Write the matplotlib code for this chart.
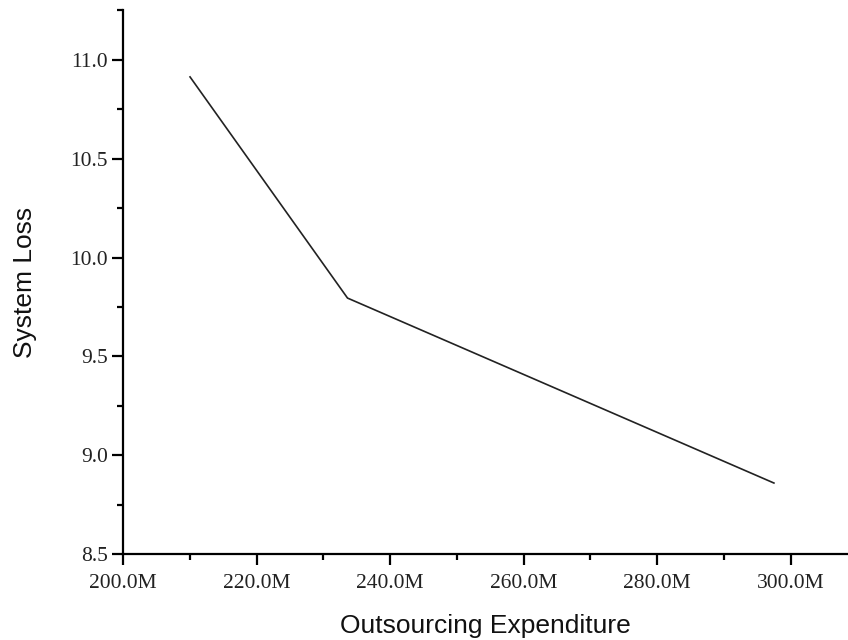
#!/usr/bin/env python3
"""System loss against outsourcing expenditure, drawn as a plain line plot."""

import matplotlib

matplotlib.use("Agg")
import matplotlib.pyplot as plt
from matplotlib.ticker import FixedFormatter, FixedLocator, MultipleLocator

# outsourcing expenditure in millions, and the resulting system loss
expenditure_m = [210.0, 233.6, 297.5]
system_loss = [10.913, 9.795, 8.860]

x_ticks = [200, 220, 240, 260, 280, 300]
x_tick_labels = ["200.0M", "220.0M", "240.0M", "260.0M", "280.0M", "300.0M"]
y_ticks = [8.5, 9.0, 9.5, 10.0, 10.5, 11.0]
y_tick_labels = ["8.5", "9.0", "9.5", "10.0", "10.5", "11.0"]

SERIF = ["Liberation Serif", "DejaVu Serif"]
SANS = ["Liberation Sans", "DejaVu Sans"]


def main() -> int:
    fig = plt.figure(figsize=(8.48, 6.4), dpi=100)
    ax = fig.add_axes([0.1454, 0.134, 0.8546, 0.850])

    ax.plot(expenditure_m, system_loss, color="#222222", linewidth=1.2)

    ax.set_xlim(200, 308.6)
    ax.set_ylim(8.5, 11.25)

    ax.xaxis.set_major_locator(FixedLocator(x_ticks))
    ax.xaxis.set_major_formatter(FixedFormatter(x_tick_labels))
    ax.xaxis.set_minor_locator(MultipleLocator(10))
    ax.yaxis.set_major_locator(FixedLocator(y_ticks))
    ax.yaxis.set_major_formatter(FixedFormatter(y_tick_labels))
    ax.yaxis.set_minor_locator(MultipleLocator(0.25))

    for side in ("top", "right"):
        ax.spines[side].set_visible(False)
    for side in ("left", "bottom"):
        ax.spines[side].set_linewidth(1.6)

    ax.tick_params(which="major", direction="out", length=8, width=1.6,
                   labelsize=15.5, pad=3)
    ax.tick_params(which="minor", direction="out", length=4.5, width=1.6)
    ax.tick_params(axis="x", which="major", pad=6.5)
    for lbl in ax.get_xticklabels() + ax.get_yticklabels():
        lbl.set_family(SERIF)
        lbl.set_color("#222222")

    ax.set_xlabel("Outsourcing Expenditure", family=SANS, fontsize=19,
                  color="#111111", labelpad=14.5)
    ax.set_ylabel("System Loss", family=SANS, fontsize=19,
                  color="#111111", labelpad=24)

    fig.savefig("out.png", dpi=100)
    plt.close(fig)
    return 0


if __name__ == "__main__":
    raise SystemExit(main())
